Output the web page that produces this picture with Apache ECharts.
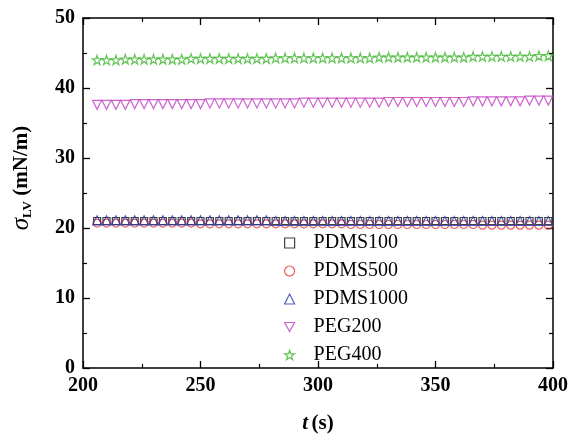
<!DOCTYPE html>
<html><head><meta charset="utf-8">
<script src="https://cdn.jsdelivr.net/npm/echarts@6/dist/echarts.min.js"></script>
<style>html,body{margin:0;padding:0;background:#fff}#c{width:575px;height:436px}</style>
</head><body><div id="c"></div>
<script>
const seriesNames = ['PDMS100','PDMS500','PDMS1000','PEG200','PEG400'];
const timeS = [
 206,210,214,218,222,226,230,
 234,238,242,246,250,254,258,
 262,266,270,274,278,282,286,
 290,294,298,302,306,310,314,
 318,322,326,330,334,338,342,
 346,350,354,358,362,366,370,
 374,378,382,386,390,394,398];
const pdms100 = [
 21.0,21.0,21.0,21.0,21.0,21.0,21.0,
 21.0,21.0,21.0,21.0,21.0,21.0,21.0,
 21.0,21.0,21.0,21.0,21.0,21.0,21.0,
 21.0,21.0,21.0,21.0,21.0,21.0,21.0,
 21.0,21.0,21.0,21.0,21.0,21.0,21.0,
 21.0,21.0,21.0,21.0,21.0,21.0,21.0,
 21.0,21.0,21.0,21.0,21.0,21.0,21.0];
const pdms500 = [
 20.7,20.7,20.7,20.7,20.7,20.7,20.7,
 20.7,20.7,20.7,20.7,20.6,20.6,20.6,
 20.6,20.6,20.6,20.6,20.6,20.6,20.6,
 20.6,20.6,20.6,20.6,20.6,20.6,20.5,
 20.5,20.5,20.5,20.5,20.5,20.5,20.5,
 20.5,20.5,20.5,20.5,20.5,20.5,20.4,
 20.4,20.4,20.4,20.4,20.4,20.4,20.4];
const pdms1000 = [
 21.1,21.1,21.1,21.1,21.1,21.1,21.1,
 21.1,21.1,21.1,21.1,21.1,21.1,21.1,
 21.1,21.1,21.1,21.1,21.1,21.0,21.0,
 21.0,21.0,21.0,21.0,21.0,21.0,21.0,
 21.0,21.0,21.0,21.0,21.0,21.0,21.0,
 21.0,21.0,21.0,21.0,21.0,21.0,21.0,
 21.0,21.0,21.0,21.0,21.0,21.0,21.0];
const peg200 = [
 37.6,37.6,37.6,37.6,37.7,37.7,37.7,
 37.7,37.7,37.7,37.7,37.7,37.8,37.8,
 37.8,37.8,37.8,37.8,37.8,37.8,37.8,
 37.8,37.9,37.9,37.9,37.9,37.9,37.9,
 37.9,37.9,37.9,38.0,38.0,38.0,38.0,
 38.0,38.0,38.0,38.0,38.0,38.1,38.1,
 38.1,38.1,38.1,38.1,38.2,38.2,38.2];
const peg400 = [
 44.0,44.0,44.0,44.1,44.1,44.1,44.1,
 44.1,44.1,44.1,44.2,44.2,44.2,44.2,
 44.2,44.2,44.2,44.2,44.2,44.3,44.3,
 44.3,44.3,44.3,44.3,44.3,44.3,44.3,
 44.3,44.3,44.4,44.4,44.4,44.4,44.4,
 44.4,44.4,44.4,44.4,44.4,44.5,44.5,
 44.5,44.5,44.5,44.5,44.5,44.6,44.6];
const xTicks = [200,250,300,350,400];
const yTicks = [0,10,20,30,40,50];

const values = [pdms100,pdms500,pdms1000,peg200,peg400];
const colors = ['#111111','#e8342e','#2b3aa8','#c03cc0','#3fb52e'];
const STAR = 'path://M50,0 L61.2,34.5 L97.6,34.5 L68.2,55.9 L79.4,90.5 L50,69.1 L20.6,90.5 L31.8,55.9 L2.4,34.5 L38.8,34.5 Z';
const DOWN = 'path://M0,0 L100,0 L50,90 Z';
const symbols = ['rect','circle','triangle',DOWN,STAR];
const sizes = [7,8,9,9,9.5];

const font = '"Liberation Serif","Times New Roman",serif';
const chart = echarts.init(document.getElementById('c'), null, {renderer:'canvas'});
const axisCommon = {
  axisLine:{show:true,onZero:false,lineStyle:{color:'#000',width:1.5}},
  axisTick:{show:true,inside:true,length:7,lineStyle:{color:'#000',width:1.3}},
  minorTick:{show:true,splitNumber:2,length:4,lineStyle:{color:'#000',width:1.2}},
  splitLine:{show:false}
};
chart.setOption({
  animation:false,
  backgroundColor:'#fff',
  grid:{left:83,right:22,top:18,bottom:68,containLabel:false,outerBoundsMode:'none'},
  legend:{
    orient:'vertical', left:279, top:228, itemGap:8, itemWidth:10, itemHeight:10,
    data:seriesNames.map((n,k)=>({name:n,icon:symbols[k],
      itemStyle:{color:'rgba(255,255,255,0)',borderColor:colors[k],borderWidth:1.2}})),
    textStyle:{fontFamily:font,fontSize:20,color:'#000',padding:[0,0,0,14]}
  },
  xAxis:[
    Object.assign({type:'value',min:xTicks[0],max:xTicks[xTicks.length-1],interval:50,position:'bottom',
      name:'{i|t} {b|(s)}',nameLocation:'middle',nameGap:45,nameMoveOverlap:false,
      nameTextStyle:{rich:{i:{fontFamily:font,fontSize:21,fontWeight:'bold',fontStyle:'italic',color:'#000'},
                           b:{fontFamily:font,fontSize:21,fontWeight:'bold',color:'#000'}}},
      axisLabel:{fontFamily:font,fontSize:20,fontWeight:'bold',color:'#000',margin:8}},axisCommon),
    Object.assign({type:'value',min:xTicks[0],max:xTicks[xTicks.length-1],interval:50,position:'top',
      axisLabel:{show:false}},axisCommon)
  ],
  yAxis:[
    Object.assign({type:'value',min:yTicks[0],max:yTicks[yTicks.length-1],interval:10,position:'left',
      name:'{s|σ}{sub|LV}{b| (mN/m)}',nameLocation:'middle',nameRotate:90,nameGap:49,nameMoveOverlap:false,
      nameTextStyle:{padding:[0,0,0,30],rich:{s:{fontFamily:font,fontSize:25,fontStyle:'italic',color:'#000'},
                           sub:{fontFamily:font,fontSize:13,fontWeight:'bold',color:'#000',verticalAlign:'bottom',padding:[10,0,0,0]},
                           b:{fontFamily:font,fontSize:21,fontWeight:'bold',color:'#000'}}},
      axisLabel:{fontFamily:font,fontSize:20,fontWeight:'bold',color:'#000',margin:8}},axisCommon),
    Object.assign({type:'value',min:yTicks[0],max:yTicks[yTicks.length-1],interval:10,position:'right',
      axisLabel:{show:false}},axisCommon)
  ],
  series: seriesNames.map((n,k)=>({
    name:n, type:'scatter', xAxisIndex:0, yAxisIndex:0,
    symbol:symbols[k], symbolSize:sizes[k],
    itemStyle:{color:'rgba(255,255,255,0)',borderColor:colors[k],borderWidth:1.2},
    data: timeS.map((t,i)=>[t,values[k][i]])
  }))
});
</script></body></html>
